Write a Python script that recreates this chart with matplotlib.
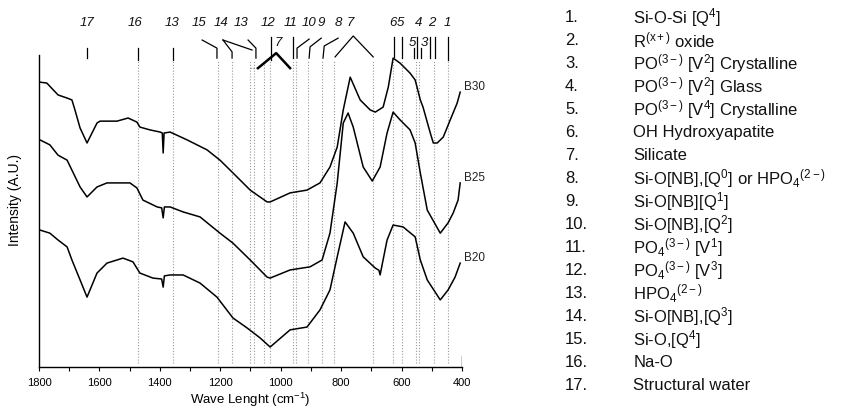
import matplotlib.pyplot as plt

plt.rcParams['font.family'] = ['Liberation Sans', 'DejaVu Sans']
plt.rcParams['mathtext.fontset'] = 'custom'
plt.rcParams['mathtext.rm'] = 'Liberation Sans'
plt.rcParams['mathtext.it'] = 'Liberation Sans:italic'
plt.rcParams['mathtext.bf'] = 'Liberation Sans:bold'

# FTIR spectra (wavenumber in cm-1, intensity in a.u.)
b30_wn = [1797, 1774, 1737, 1707, 1691, 1681, 1664, 1641, 1608, 1598, 1542, 1505,
          1476, 1466, 1433, 1399, 1392, 1389, 1386, 1366, 1310, 1244, 1201, 1158,
          1101, 1045, 1035, 969, 913, 870, 837, 813, 793, 770, 737, 704, 687, 661,
          644, 628, 605, 572, 555, 538, 529, 505, 495, 482, 462, 439, 416, 406]
b30_int = [91.3, 91.0, 87.2, 86.2, 85.6, 82.4, 76.6, 71.8, 78.2, 78.8, 78.8, 79.8,
           78.5, 76.9, 76.0, 75.3, 75.0, 68.6, 75.0, 75.3, 72.8, 69.6, 66.3, 62.2,
           56.7, 52.9, 52.9, 55.8, 56.7, 59.0, 64.1, 70.5, 82.4, 92.9, 85.6, 82.4,
           81.7, 83.3, 89.7, 99.0, 97.4, 94.2, 92.0, 85.6, 83.3, 75.0, 71.8, 71.8,
           73.7, 79.2, 84.6, 88.1]

b25_wn = [1797, 1764, 1737, 1707, 1691, 1664, 1641, 1608, 1575, 1532, 1499, 1476,
          1456, 1409, 1394, 1389, 1385, 1366, 1323, 1267, 1201, 1158, 1101, 1045,
          1035, 969, 903, 863, 837, 813, 793, 777, 760, 727, 697, 671, 648, 628,
          605, 572, 555, 538, 515, 472, 446, 429, 413, 406]
b25_int = [72.8, 71.2, 67.9, 66.3, 63.1, 57.7, 54.5, 57.7, 59.0, 59.0, 59.0, 57.4,
           53.5, 51.3, 51.0, 47.8, 51.3, 51.3, 49.7, 48.1, 42.9, 39.7, 34.3, 28.8,
           28.5, 31.1, 32.1, 34.3, 42.9, 59.0, 78.2, 81.4, 76.9, 64.1, 59.6, 64.1,
           75.0, 81.7, 79.2, 76.0, 71.8, 62.2, 50.3, 42.9, 46.2, 49.4, 53.5, 59.0]

b20_wn = [1797, 1764, 1737, 1707, 1691, 1664, 1641, 1608, 1575, 1522, 1489, 1466,
          1423, 1394, 1389, 1385, 1366, 1323, 1267, 1211, 1158, 1111, 1068, 1035,
          969, 913, 870, 837, 813, 787, 760, 727, 687, 675, 671, 667, 648, 628,
          595, 555, 538, 515, 472, 446, 423, 406]
b20_int = [43.9, 42.9, 40.7, 38.5, 34.3, 27.9, 22.4, 30.1, 33.3, 34.9, 33.7, 30.1,
           28.5, 28.2, 25.6, 29.2, 29.5, 29.5, 26.9, 22.4, 15.7, 12.5, 9.3, 6.4,
           11.9, 12.8, 18.3, 24.7, 35.3, 46.5, 42.9, 35.3, 31.7, 31.0, 29.5, 31.5,
           40.7, 45.5, 44.9, 41.7, 34.3, 27.9, 21.5, 24.7, 28.8, 33.3]

series_names = ['B30', 'B25', 'B20']

# band positions marked with dotted lines (cm-1)
band_wn = [1473, 1355, 1206, 1160, 1101, 1088, 1054, 1037, 958, 950, 910,
           862, 822, 693, 627, 597, 553, 541, 492, 445]

# numbered band labels above the plot: (label, wavenumber)
top_labels = [('17', 1641), ('16', 1482), ('13', 1360), ('15', 1270),
              ('14', 1197), ('13', 1131), ('12', 1042), ('11', 966),
              ('10', 906), ('9', 866), ('8', 810), ('7', 770), ('6', 628),
              ('5', 605), ('4', 543), ('2', 499), ('1', 449)]
low_labels = [('7', 1009), ('5', 565), ('3', 525)]

legend_items = [
    'Si-O-Si [Q$^{4}$]',
    'R$^{(\\mathrm{x}+)}$ oxide',
    'PO$^{(3-)}$ [V$^{2}$] Crystalline',
    'PO$^{(3-)}$ [V$^{2}$] Glass',
    'PO$^{(3-)}$ [V$^{4}$] Crystalline',
    'OH Hydroxyapatite',
    'Silicate',
    'Si-O[NB],[Q$^{0}$] or HPO$_{4}$$^{(2-)}$',
    'Si-O[NB][Q$^{1}$]',
    'Si-O[NB],[Q$^{2}$]',
    'PO$_{4}$$^{(3-)}$ [V$^{1}$]',
    'PO$_{4}$$^{(3-)}$ [V$^{3}$]',
    'HPO$_{4}$$^{(2-)}$',
    'Si-O[NB],[Q$^{3}$]',
    'Si-O,[Q$^{4}$]',
    'Na-O',
    'Structural water',
]

fig = plt.figure(figsize=(8.42, 4.08), dpi=100)
ax = fig.add_axes([0.0463, 0.1005, 0.5024, 0.7647])

# dotted band markers
for wn in band_wn:
    ax.axvline(wn, ymin=0.013, ymax=0.985, color='#9a9a9a', lw=0.8,
               ls=(0, (1, 1.6)), zorder=1)

for wn, yi in [(b30_wn, b30_int), (b25_wn, b25_int), (b20_wn, b20_int)]:
    ax.plot(wn, yi, color='black', lw=1.1, zorder=3)

# sample names at the right end of each trace
for name, wn, yi in zip(series_names, [b30_wn, b25_wn, b20_wn],
                        [b30_int, b25_int, b20_int]):
    ax.text(wn[-1] - 12, yi[-1] + 1.5, name, fontsize=8.5, ha='left',
            va='center', color='#222222')

ax.set_xlim(1800, 400)
ax.set_ylim(0, 100)
ax.set_xticks(range(1800, 399, -200))
ax.set_xticks(range(1700, 399, -200), minor=True)
ax.tick_params(axis='x', which='both', direction='out', length=3, width=0.8,
               labelsize=8, pad=5)
ax.set_yticks([])
ax.spines['top'].set_visible(False)
ax.spines['right'].set_visible(False)
ax.spines['left'].set_linewidth(1.0)
ax.spines['bottom'].set_linewidth(1.0)
ax.axvline(400, ymax=0.035, color='black', lw=1.0)
ax.set_xlabel('Wave Lenght (cm$^{-1}$)', fontsize=9.5, labelpad=2)
ax.set_ylabel('Intensity (A.U.)', fontsize=10)
ax.yaxis.set_label_coords(-0.040, 0.535)

# leader lines from labels to bands (x in cm-1, y in axes fraction)
tr = ax.get_xaxis_transform()
leaders = [
    [(1641, 1.022), (1641, 0.990)],
    [(1472, 1.022), (1472, 0.984)],
    [(1356, 1.022), (1356, 0.984)],
    [(1260, 1.048), (1211, 1.022), (1211, 0.990)],
    [(1191, 1.048), (1161, 1.010), (1161, 0.990)],
    [(1191, 1.048), (1095, 1.016)],
    [(1108, 1.048), (1082, 1.022), (1082, 0.990)],
    [(1032, 1.058), (1032, 0.984)],
    [(959, 1.058), (959, 0.990)],
    [(906, 1.051), (946, 1.022), (946, 0.990)],
    [(866, 1.054), (903, 1.026), (906, 0.990)],
    [(810, 1.054), (856, 1.029), (860, 0.990)],
    [(820, 0.994), (760, 1.061), (694, 0.994)],
    [(625, 1.058), (625, 0.994)],
    [(598, 1.058), (598, 0.990)],
    [(548, 1.058), (548, 0.990)],
    [(558, 1.022), (558, 0.990)],
    [(536, 1.022), (536, 0.990)],
    [(505, 1.058), (505, 0.990)],
    [(489, 1.058), (489, 0.990)],
    [(446, 1.058), (446, 0.984)],
]
for pts in leaders:
    xs, ys = zip(*pts)
    ax.plot(xs, ys, color='black', lw=0.9, transform=tr, clip_on=False,
            zorder=4)

# silicate bracket (label 7 below)
ax.plot([1075, 1015, 969], [0.958, 1.006, 0.958], color='black', lw=1.8,
        transform=tr, clip_on=False, zorder=4)
ax.plot([1101, 1075], [0.958, 0.958], color='#777777', lw=0.8, ls=':',
        transform=tr, clip_on=False)

for txt, wn in top_labels:
    ax.text(wn, 1.103, txt, transform=tr, ha='center', va='center',
            fontsize=9.5, style='italic', color='#111111')
for txt, wn in low_labels:
    ax.text(wn, 1.040, txt, transform=tr, ha='center', va='center',
            fontsize=9.5, style='italic', color='#111111')

# numbered assignment list
for i, item in enumerate(legend_items):
    y = 0.957 - i * 0.0564
    fig.text(0.671, y, f'{i + 1}.', fontsize=12, va='center', ha='left',
             color='#111111')
    fig.text(0.752, y, item, fontsize=12, va='center', ha='left',
             color='#111111')

fig.savefig('out.png', dpi=100)
